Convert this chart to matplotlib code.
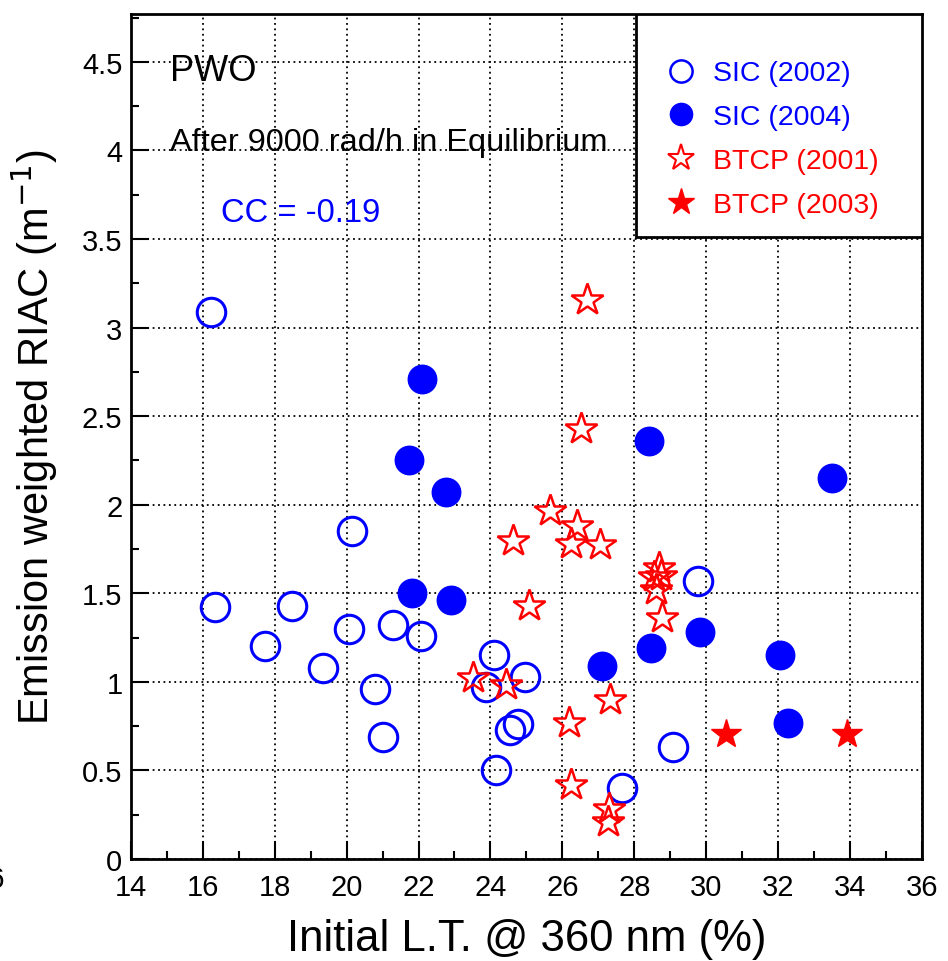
import matplotlib
matplotlib.use('Agg')
import matplotlib.pyplot as plt
from matplotlib.lines import Line2D
from matplotlib.patches import Rectangle
from matplotlib.ticker import MultipleLocator

plt.rcParams['font.family'] = ['Liberation Sans', 'DejaVu Sans']

# SIC (2002) - open circles
sic02_x = [16.24, 16.34, 17.73, 18.48, 19.34, 20.14, 20.06, 20.80, 21.00, 21.30,
           22.07, 24.10, 23.87, 24.96, 24.15, 24.54, 24.77, 29.76, 29.07, 27.67]
sic02_y = [3.09, 1.42, 1.20, 1.43, 1.08, 1.85, 1.30, 0.96, 0.69, 1.32,
           1.26, 1.15, 0.97, 1.03, 0.50, 0.73, 0.76, 1.57, 0.63, 0.40]

# SIC (2004) - filled circles
sic04_x = [22.10, 21.74, 22.75, 21.81, 22.89, 28.41, 33.49, 29.83, 28.46, 27.11, 32.06, 32.28]
sic04_y = [2.71, 2.25, 2.07, 1.50, 1.46, 2.36, 2.15, 1.28, 1.19, 1.09, 1.15, 0.77]

# BTCP (2001) - open stars
btcp01_x = [26.69, 26.51, 25.65, 26.42, 26.23, 27.05, 24.62, 25.08, 28.55, 28.70,
            28.75, 28.60, 28.78, 23.52, 24.43, 27.32, 26.19, 26.24, 27.30, 27.26]
btcp01_y = [3.155, 2.425, 1.965, 1.88, 1.78, 1.77, 1.795, 1.43, 1.59, 1.64,
            1.60, 1.52, 1.36, 1.02, 0.98, 0.90, 0.77, 0.42, 0.28, 0.21]

# BTCP (2003) - filled stars
btcp03_x = [30.55, 33.91]
btcp03_y = [0.705, 0.705]

fig = plt.figure(figsize=(9.48, 9.62), dpi=100)
ax = fig.add_axes([0.138, 0.106, 0.8346, 0.8784])

ax.plot(sic02_x, sic02_y, 'o', ms=20.5, mfc='none', mec='blue', mew=2.2, ls='none')
ax.plot(sic04_x, sic04_y, 'o', ms=20.5, mfc='blue', mec='blue', mew=1, ls='none')
ax.plot(btcp01_x, btcp01_y, '*', ms=24, mfc='none', mec='red', mew=1.8, ls='none')
ax.plot(btcp03_x, btcp03_y, '*', ms=22, mfc='red', mec='red', mew=1, ls='none')

ax.set_xlim(14, 36)
ax.set_ylim(0, 4.77)
ax.xaxis.set_major_locator(MultipleLocator(2))
ax.xaxis.set_minor_locator(MultipleLocator(1))
ax.yaxis.set_minor_locator(MultipleLocator(0.25))
ax.set_yticks([0, 0.5, 1, 1.5, 2, 2.5, 3, 3.5, 4, 4.5])
ax.set_yticklabels(['0', '0.5', '1', '1.5', '2', '2.5', '3', '3.5', '4', '4.5'])
ax.tick_params(which='both', direction='in', top=False, right=False, labelsize=21, width=1.5)
ax.tick_params(which='major', length=13)
ax.tick_params(which='minor', length=6)
ax.tick_params(axis='x', pad=10)
ax.tick_params(axis='y', pad=6)
for s in ax.spines.values():
    s.set_linewidth(2)
ax.grid(True, which='major', color='black', ls=(0, (1, 2)), lw=1.3)
ax.set_axisbelow(True)

ax.set_xlabel('Initial L.T. @ 360 nm (%)', fontsize=31.5, labelpad=12)
ax.set_ylabel('Emission weighted RIAC (m$^{-1}$)', fontsize=30)
ax.yaxis.set_label_coords(-0.089, 0.5)

ax.text(15.1, 4.45, 'PWO', fontsize=26, va='center')
ax.text(15.1, 4.05, 'After 9000 rad/h in Equilibrium', fontsize=23.4, va='center')
ax.text(16.5, 3.65, 'CC = -0.19', fontsize=23.5, va='center', color='blue')

# legend box
ax.add_patch(Rectangle((0.638, 0.736), 0.362, 0.264, transform=ax.transAxes,
                       fill=True, facecolor='white', edgecolor='black', lw=2, zorder=5))
handles = [
    Line2D([], [], marker='o', ls='none', ms=16, mfc='none', mec='blue', mew=1.8),
    Line2D([], [], marker='o', ls='none', ms=16, mfc='blue', mec='blue'),
    Line2D([], [], marker='*', ls='none', ms=20, mfc='none', mec='red', mew=1.5),
    Line2D([], [], marker='*', ls='none', ms=20, mfc='red', mec='red'),
]
labels = ['SIC (2002)', 'SIC (2004)', 'BTCP (2001)', 'BTCP (2003)']
leg = ax.legend(handles, labels, loc='upper left', bbox_to_anchor=(0.678, 0.945),
                frameon=False, fontsize=20.5, handlelength=1.0, handletextpad=0.6,
                labelspacing=0.63, borderaxespad=0, borderpad=0)
leg.set_zorder(6)
for t, c in zip(leg.get_texts(), ['blue', 'blue', 'red', 'red']):
    t.set_color(c)

# clipped tick label from the neighbouring panel
fig.text(0.006, 0.085, '36', fontsize=21, ha='right', va='center')

fig.savefig('out.png', dpi=100)
